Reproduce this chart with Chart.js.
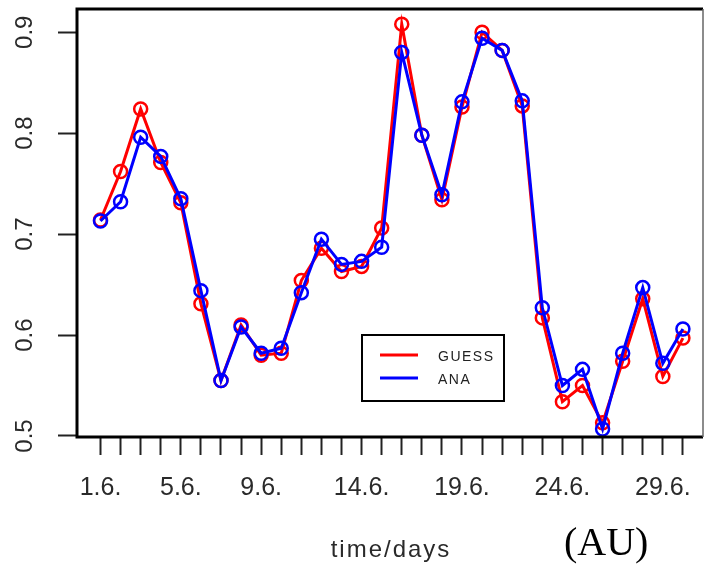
<!DOCTYPE html>
<html>
<head>
<meta charset="utf-8">
<script src="https://cdn.jsdelivr.net/npm/chart.js@4"></script>
<style>
  html, body { margin: 0; padding: 0; background: #fff; }
  #wrap { width: 704px; height: 566px; position: relative; }
</style>
</head>
<body>
<div id="wrap"><canvas id="chart"></canvas></div>
<script>
"use strict"

// days of June
const days = [1, 2, 3, 4, 5, 6, 7, 8, 9, 10, 11, 12, 13, 14, 15,
              16, 17, 18, 19, 20, 21, 22, 23, 24, 25, 26, 27, 28, 29, 30];
const labelledDays = [1, 5, 9, 14, 19, 24, 29];
const yTicks = [0.5, 0.6, 0.7, 0.8, 0.9];

const guess = [0.714, 0.762, 0.824, 0.771, 0.731, 0.631, 0.555, 0.610, 0.580, 0.582,
               0.654, 0.686, 0.663, 0.668, 0.706, 0.908, 0.798, 0.734, 0.826, 0.900,
               0.882, 0.827, 0.617, 0.534, 0.550, 0.513, 0.574, 0.636, 0.559, 0.597];
const ana = [0.713, 0.732, 0.796, 0.777, 0.735, 0.644, 0.555, 0.608, 0.582, 0.587,
             0.642, 0.695, 0.670, 0.673, 0.687, 0.880, 0.798, 0.739, 0.831, 0.894,
             0.882, 0.832, 0.627, 0.550, 0.566, 0.507, 0.582, 0.647, 0.572, 0.606];

const seriesNames = ["GUESS", "ANA"];
const seriesColors = ["#ff0000", "#0000ff"];

function toPoints(values) {
    return values.map((v, i) => ({ x: days[i], y: v }));
}

// box around plot, rotated y labels, legend and axis captions
const extras = {
    id: "extras",
    afterDraw(chart) {
        const ctx = chart.ctx;
        const area = chart.chartArea;
        const yScale = chart.scales.y;

        ctx.save();
        ctx.strokeStyle = "#000";
        ctx.lineWidth = 3;
        ctx.beginPath();
        ctx.moveTo(area.right, area.top);
        ctx.lineTo(area.left, area.top);
        ctx.lineTo(area.left, area.bottom);
        ctx.lineTo(area.right, area.bottom);
        ctx.stroke();
        ctx.strokeStyle = "#666";
        ctx.lineWidth = 1.5;
        ctx.beginPath();
        ctx.moveTo(area.right, area.top);
        ctx.lineTo(area.right, area.bottom);
        ctx.stroke();

        // y tick labels, reading upward
        ctx.fillStyle = "#2a2a2a";
        ctx.font = "24px 'Liberation Sans', Arial, sans-serif";
        ctx.textAlign = "center";
        ctx.textBaseline = "middle";
        yScale.ticks.forEach(t => {
            const py = yScale.getPixelForValue(t.value);
            ctx.save();
            ctx.translate(25, py);
            ctx.rotate(-Math.PI / 2);
            ctx.fillText(t.value.toFixed(1), 0, 0);
            ctx.restore();
        });

        // legend
        const lx = 362, ly = 335, lw = 142, lh = 66;
        ctx.strokeStyle = "#000";
        ctx.lineWidth = 2;
        ctx.strokeRect(lx, ly, lw, lh);
        ctx.font = "14px 'Liberation Sans', Arial, sans-serif";
        ctx.letterSpacing = "1.5px";
        ctx.textAlign = "left";
        chart.data.datasets.slice().sort((a, b) => b.order - a.order).forEach((ds, i) => {
            const yy = ly + 20 + i * 23;
            ctx.strokeStyle = ds.borderColor;
            ctx.lineWidth = 3;
            ctx.beginPath();
            ctx.moveTo(lx + 18, yy);
            ctx.lineTo(lx + 56, yy);
            ctx.stroke();
            ctx.fillStyle = "#222";
            ctx.fillText(ds.label, lx + 76, yy + 2);
        });

        // axis caption
        ctx.fillStyle = "#2a2a2a";
        ctx.font = "24px 'Liberation Sans', Arial, sans-serif";
        ctx.letterSpacing = "2px";
        ctx.textAlign = "center";
        ctx.textBaseline = "alphabetic";
        ctx.fillText("time/days", 391, 557);

        ctx.letterSpacing = "0px";
        ctx.fillStyle = "#000";
        ctx.font = "40px 'Liberation Serif', 'Times New Roman', serif";
        ctx.textAlign = "left";
        ctx.fillText("(AU)", 564, 555);
        ctx.restore();
    }
};

new Chart(document.getElementById("chart"), {
    type: "line",
    data: {
        datasets: [
            {
                label: seriesNames[0],
                data: toPoints(guess),
                borderColor: seriesColors[0],
                backgroundColor: "transparent",
                borderWidth: 3,
                pointRadius: 6.5,
                pointBorderWidth: 2.5,
                pointBackgroundColor: "transparent",
                pointBorderColor: seriesColors[0],
                tension: 0,
                order: 1
            },
            {
                label: seriesNames[1],
                data: toPoints(ana),
                borderColor: seriesColors[1],
                backgroundColor: "transparent",
                borderWidth: 3,
                pointRadius: 6.5,
                pointBorderWidth: 2.5,
                pointBackgroundColor: "transparent",
                pointBorderColor: seriesColors[1],
                tension: 0,
                order: 0
            }
        ]
    },
    options: {
        responsive: true,
        maintainAspectRatio: false,
        animation: false,
        layout: { autoPadding: false, padding: { left: 0, top: 9, right: 1, bottom: 0 } },
        plugins: {
            legend: { display: false },
            tooltip: { enabled: false }
        },
        scales: {
            x: {
                type: "linear",
                min: -0.17,
                max: 31.0,
                afterBuildTicks: scale => {
                    scale.ticks = days.map(d => ({ value: d }));
                },
                afterFit: scale => { scale.height = 129; },
                border: { display: false },
                grid: {
                    drawOnChartArea: false,
                    drawTicks: true,
                    tickLength: 18,
                    tickWidth: 2,
                    tickColor: "#222"
                },
                ticks: {
                    autoSkip: false,
                    maxRotation: 0,
                    minRotation: 0,
                    padding: 18,
                    color: "#2a2a2a",
                    font: { family: "'Liberation Sans', Arial, sans-serif", size: 25 },
                    callback: value => labelledDays.includes(value) ? value + ".6." : ""
                }
            },
            y: {
                min: 0.499,
                max: 0.923,
                afterBuildTicks: scale => {
                    scale.ticks = yTicks.map(v => ({ value: v }));
                },
                afterFit: scale => { scale.width = 77; },
                border: { display: false },
                grid: {
                    drawOnChartArea: false,
                    drawTicks: true,
                    tickLength: 19,
                    tickWidth: 2,
                    tickColor: "#222"
                },
                ticks: { display: false }
            }
        }
    },
    plugins: [extras]
});
</script>
</body>
</html>
